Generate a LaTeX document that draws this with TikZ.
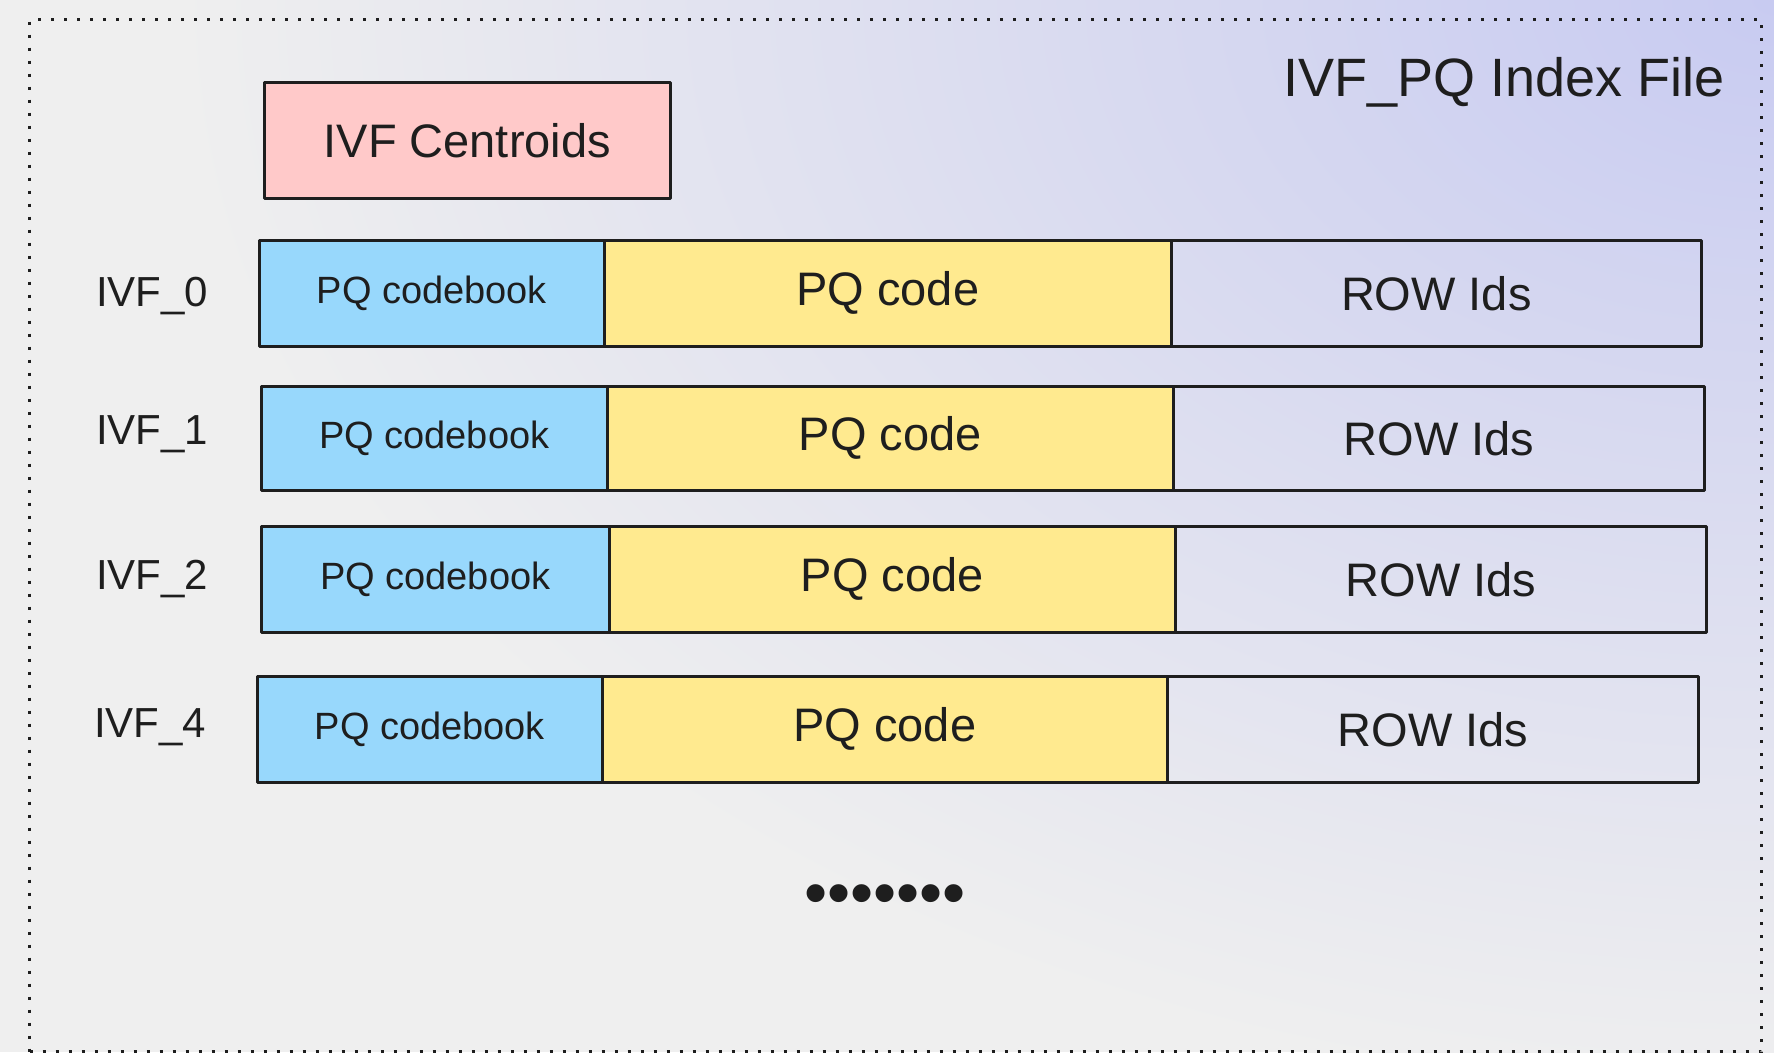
\documentclass[tikz,border=0pt]{standalone}
\usepackage{fontspec}
\setmainfont{Liberation Sans}
\definecolor{bg}{HTML}{EFEFEF}
\definecolor{lav}{HTML}{C8CBF1}
\definecolor{pinkf}{HTML}{FFC9C9}
\definecolor{bluef}{HTML}{98D8FC}
\definecolor{yellowf}{HTML}{FFEA8F}
\definecolor{ink}{HTML}{1E1E1E}
\begin{document}
\begin{tikzpicture}[x=1pt,y=-1pt,
  cell/.style={draw=ink, line width=2.6pt, line join=round, inner sep=0pt, anchor=north west, text=ink},
  bigtxt/.style={font=\fontsize{47}{50}\selectfont},
  cbtxt/.style={font=\fontsize{38}{42}\selectfont},
  lbl/.style={font=\fontsize{42}{46}\selectfont, text=ink, inner sep=0pt, anchor=west},
  frame/.style={draw=ink, line width=3pt, dash pattern=on 3pt off 10pt, inner sep=0pt, anchor=north west}]
\useasboundingbox (0,0) rectangle (1774,1052);
\fill[bg] (0,0) rectangle (1774,1052);
\begin{scope}
  \clip (0,0) rectangle (1774,1052);
  \shade[inner color=lav, outer color=bg] (1774,0) ellipse (1600 and 1100);
\end{scope}
\node[frame, minimum width=1732pt, minimum height=1032pt] (frm) at (28,18) {};
\node[font=\fontsize{54}{58}\selectfont, text=ink, inner sep=0pt, anchor=base east] (title) at (1725,96) {IVF\_PQ Index File};
\node[cell, fill=pinkf, bigtxt, minimum width=406pt, minimum height=116pt] (cent) at (263,81) {IVF Centroids};
% row 0
\node[cell, fill=bluef, cbtxt, minimum width=345pt, minimum height=106pt] (cb0) at (258,239) {PQ codebook};
\node[cell, fill=yellowf, bigtxt, minimum width=567pt, minimum height=106pt] (pc0) at (603,239) {PQ code};
\node[cell, bigtxt, minimum width=530pt, minimum height=106pt] (ri0) at (1170,239) {ROW Ids};
\node[lbl] (l0) at (96,296) {IVF\_0};
% row 1
\node[cell, fill=bluef, cbtxt, minimum width=346pt, minimum height=104pt] (cb1) at (260,385) {PQ codebook};
\node[cell, fill=yellowf, bigtxt, minimum width=566pt, minimum height=104pt] (pc1) at (606,385) {PQ code};
\node[cell, bigtxt, minimum width=531pt, minimum height=104pt] (ri1) at (1172,385) {ROW Ids};
\node[lbl] (l1) at (96,434) {IVF\_1};
% row 2
\node[cell, fill=bluef, cbtxt, minimum width=348pt, minimum height=106pt] (cb2) at (260,525) {PQ codebook};
\node[cell, fill=yellowf, bigtxt, minimum width=566pt, minimum height=106pt] (pc2) at (608,525) {PQ code};
\node[cell, bigtxt, minimum width=531pt, minimum height=106pt] (ri2) at (1174,525) {ROW Ids};
\node[lbl] (l2) at (96,579) {IVF\_2};
% row 4
\node[cell, fill=bluef, cbtxt, minimum width=345pt, minimum height=106pt] (cb4) at (256,675) {PQ codebook};
\node[cell, fill=yellowf, bigtxt, minimum width=565pt, minimum height=106pt] (pc4) at (601,675) {PQ code};
\node[cell, bigtxt, minimum width=531pt, minimum height=106pt] (ri4) at (1166,675) {ROW Ids};
\node[lbl] (l4) at (94,727) {IVF\_4};
% ellipsis
\node[font=\fontsize{66}{70}\selectfont, text=ink, inner sep=0pt] (dots) at (885,900) {•••••••};
\end{tikzpicture}
\end{document}
